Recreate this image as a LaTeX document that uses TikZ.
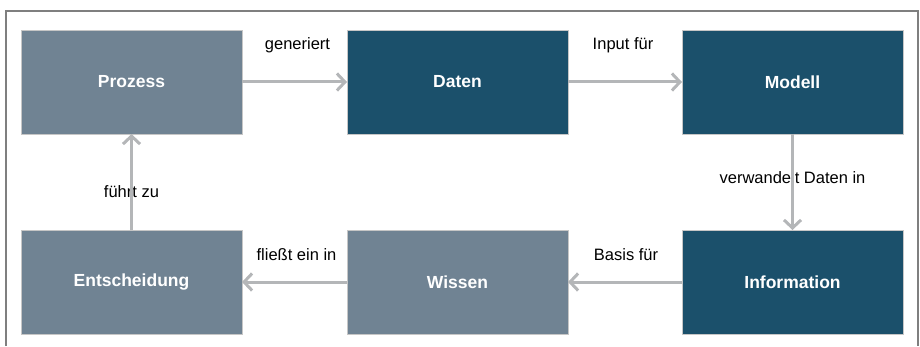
\documentclass[tikz,border=0pt]{standalone}
\usepackage{fontspec}
\setmainfont{Liberation Sans}
\usetikzlibrary{arrows.meta, positioning}
\definecolor{slatebox}{HTML}{708393}
\definecolor{tealbox}{HTML}{1B506B}
\definecolor{flowgray}{HTML}{B4B6B8}
\definecolor{framegray}{HTML}{7F7F7F}

\begin{document}
\begin{tikzpicture}[
        x=1pt, y=1pt,
        box/.style={rectangle, draw=gray!45, line width=0.8pt, text=white, align=center,
                    minimum width=221pt, minimum height=104pt, inner sep=0pt, outer sep=0pt,
                    font=\fontsize{17.5}{21}\selectfont\bfseries},
        light/.style={box, fill=slatebox},
        dark/.style={box, fill=tealbox},
        lbl/.style={inner sep=0pt, font=\fontsize{16.5}{20}\selectfont},
        flow/.style={draw=flowgray, line width=3pt, -{Straight Barb[length=8pt, width=17pt]}}
    ]
    \useasboundingbox (0,0) rectangle (920,346);
    \draw[framegray, line width=1.4pt] (6,0) -- (6,335) -- (918,335) -- (918,0);
    % top row
    \node [light] (proz) at (131.5,264) {Prozess};
    \node [dark, right=105pt of proz] (daten) {Daten};
    \node [dark, right=114pt of daten] (modell) {Modell};
    % bottom row
    \node [light, below=96pt of proz] (entsch) {Entscheidung};
    \node [light, below=96pt of daten] (wissen) {Wissen};
    \node [dark, below=96pt of modell] (info) {Information};
    % connectors
    \draw[flow] (proz) -- (daten) node[lbl, midway, above=28pt, xshift=3pt] {generiert};
    \draw[flow] (daten) -- (modell) node[lbl, midway, above=28pt, xshift=-2pt] {Input für};
    \path (modell) -- (info) node[lbl, midway, yshift=4pt] (lblmi) {verwandelt Daten in};
    \draw[flow] (modell) -- (info);
    \draw[flow] (info) -- (wissen) node[lbl, midway, above=20pt, xshift=1pt] {Basis für};
    \draw[flow] (wissen) -- (entsch) node[lbl, midway, above=20pt, xshift=2pt] {fließt ein in};
    \path (entsch) -- (proz) node[lbl, midway, yshift=-10pt] (lblep) {führt zu};
    \draw[flow] (entsch) -- (proz);
  \end{tikzpicture}
\end{document}
